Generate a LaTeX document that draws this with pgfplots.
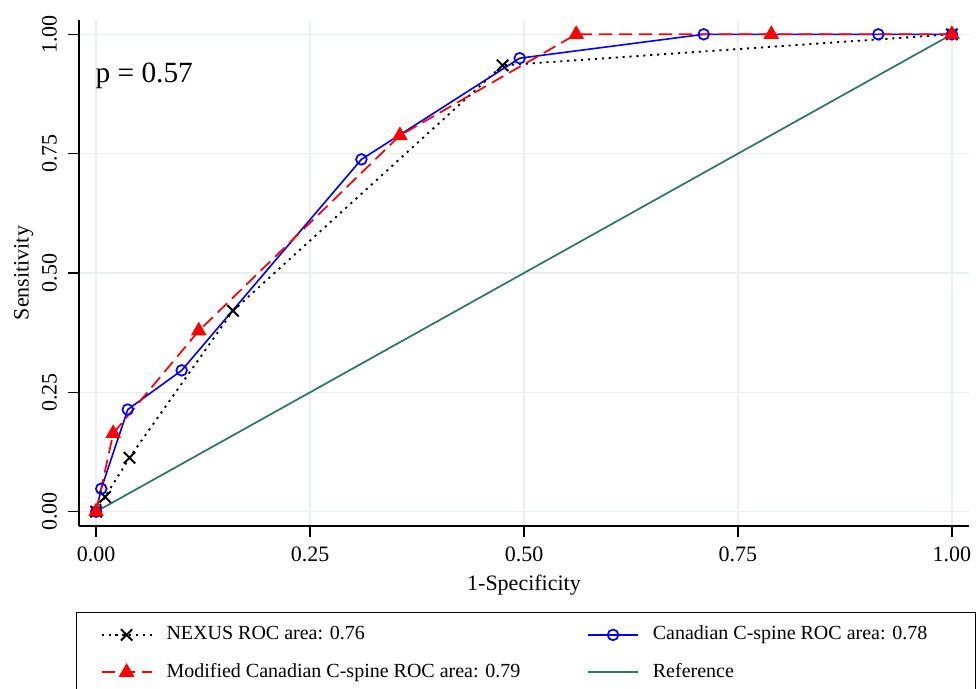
\documentclass[border=0pt]{standalone}
\usepackage{fontspec}
\setmainfont{Liberation Serif}
\usepackage{pgfplots}
\pgfplotsset{compat=1.18}
\definecolor{refteal}{RGB}{46,117,108}
\definecolor{gridc}{RGB}{232,240,242}
\begin{document}
\begin{tikzpicture}
\begin{axis}[name=ax, at={(0,0)}, anchor=south west,
  scale only axis, width=667.5pt, height=379.5pt,
  xmin=-0.02, xmax=1.02, ymin=-0.03, ymax=1.03,
  axis x line*=bottom, axis y line*=left,
  axis line style={line width=1.2pt, -},
  xtick={0,0.25,0.5,0.75,1}, ytick={0,0.25,0.5,0.75,1},
  /pgf/number format/fixed, /pgf/number format/fixed zerofill,
  /pgf/number format/precision=2, /pgf/number format/assume math mode=true,
  tick align=outside, major tick length=8pt,
  tick style={line width=1.2pt, black},
  grid=major, major grid style={gridc, line width=1pt},
  ticklabel style={font=\fontsize{16.5}{18}\selectfont},
  xticklabel style={yshift=-4pt},
  yticklabel style={xshift=-5pt, rotate=90, anchor=south},
  xlabel={1-Specificity}, ylabel={Sensitivity},
  label style={font=\fontsize{16.5}{18}\selectfont},
  xlabel style={at={(axis description cs:0.5,-0.117)}, anchor=center},
  ylabel style={at={(axis description cs:-0.062,0.5)}, anchor=center},
  legend columns=2,
  legend image code/.code={\draw[mark repeat=2,mark phase=2,#1] plot coordinates {(0pt,0pt)(18.75pt,0pt)(37.5pt,0pt)};},
  legend style={at={(axis description cs:-0.0034,-0.170)}, anchor=north west,
    draw=black, line width=1pt, inner xsep=18pt, inner ysep=9.4pt,
    column sep=10.5pt, row sep=13.5pt,
    font=\fontsize{15}{17}\selectfont,
    nodes={inner sep=0pt, text height=11pt, text depth=3.5pt}},
  legend cell align=left,
]
\addplot[black, line width=1.4pt, dash pattern=on 1.6pt off 3.6pt,
  mark=x, mark size=6pt, mark options={solid, line width=1.5pt}]
  coordinates {(0,0) (0.0105,0.031) (0.039,0.113) (0.160,0.421) (0.475,0.935) (1,1)};
\addlegendentry{\makebox[305pt][l]{NEXUS ROC area: 0.76}}
\addplot[blue, line width=1.2pt, mark=o, mark size=4pt, mark options={solid, line width=1.3pt}]
  coordinates {(0,0) (0.006,0.048) (0.037,0.214) (0.100,0.296) (0.310,0.738) (0.495,0.950) (0.710,1) (0.914,1) (1,1)};
\addlegendentry{\makebox[224pt][l]{Canadian C-spine ROC area: 0.78}}
\addplot[red, line width=1.3pt, dash pattern=on 10pt off 5pt,
  mark=triangle*, mark size=5.5pt, mark options={solid}]
  coordinates {(0,0) (0.020,0.164) (0.120,0.379) (0.355,0.788) (0.561,1) (0.789,1) (1,1)};
\addlegendentry{\makebox[305pt][l]{Modified Canadian C-spine ROC area: 0.79}}
\addplot[refteal, line width=1.3pt] coordinates {(0,0) (1,1)};
\addlegendentry{\makebox[224pt][l]{Reference}}
\node[anchor=base west, font=\fontsize{22}{24}\selectfont] at (axis cs:-0.006,0.90) {p = 0.57};
\end{axis}
\pgfresetboundingbox
\useasboundingbox ([shift={(-59.25pt,-122.25pt)}]ax.south west) rectangle ([shift={(672.75pt,394.5pt)}]ax.south west);
\end{tikzpicture}
\end{document}
